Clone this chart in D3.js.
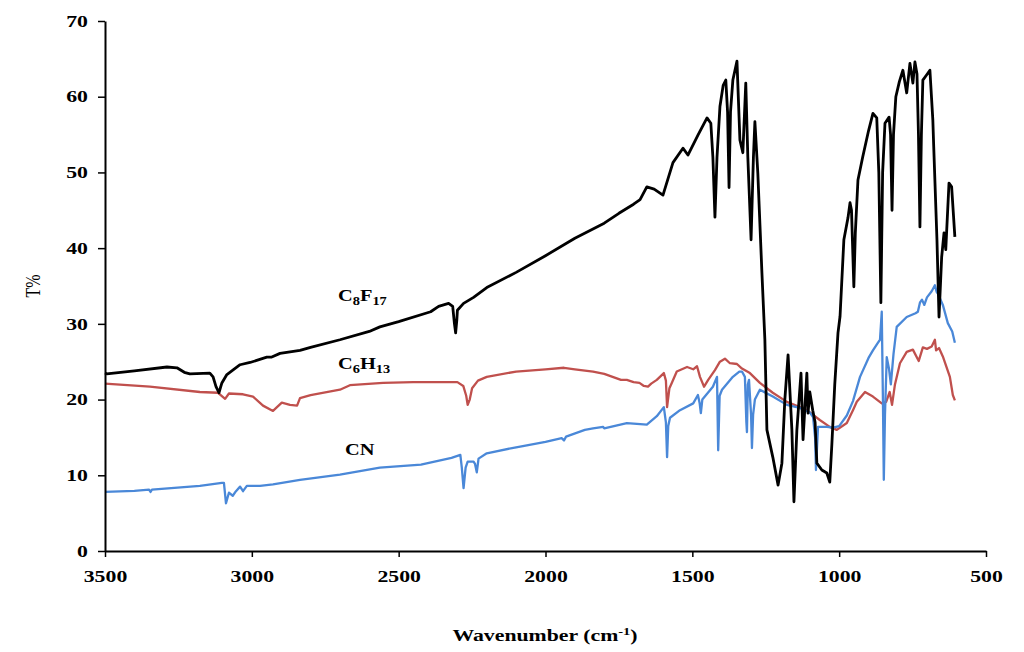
<!DOCTYPE html>
<html><head><meta charset="utf-8">
<script src="https://cdn.jsdelivr.net/npm/d3@7"></script>
<style>html,body{margin:0;padding:0;background:#fff;}svg{display:block;}</style>
</head><body>
<script>
// ---- Data ----
const xTicks = [3500, 3000, 2500, 2000, 1500, 1000, 500];
const yTicks = [0, 10, 20, 30, 40, 50, 60, 70];

const c8f17Wn = [3500,3494,3400,3289,3255,3230,3211,3143,3132,3122,3112,3102,3085,3040,3006,2949,2934,2904,2836,2800,2700,2600,2564,2500,2391,2364,2330,2316,2310,2306,2302,2300,2279,2245,2200,2100,2000,1900,1800,1750,1700,1678,1655,1630,1600,1566,1532,1515,1480,1450,1437,1430,1423,1416,1406,1395,1386,1380,1375,1370,1362,1348,1338,1328,1318,1311,1300,1292,1287,1277,1263,1253,1246,1226,1208,1195,1185,1174,1161,1154,1144,1130,1123,1110,1106,1100,1090,1082,1076,1059,1042,1032,1025,1015,1004,997,984,970,963,958,950,945,936,920,900,885,872,865,858,852,844,830,825,820,815,807,795,783,770,759,749,742,735,730,725,720,715,700,691,681,678,667,660,651,643,637,626,617,606];
const c8f17T = [23.5,23.4,23.8,24.3,24.2,23.6,23.4,23.5,23.0,21.7,20.9,22.2,23.3,24.6,24.9,25.6,25.6,26.1,26.5,26.9,27.9,29.0,29.6,30.3,31.6,32.3,32.7,32.3,30.0,28.8,30.5,31.8,32.7,33.5,34.8,36.8,39.0,41.3,43.3,44.6,45.8,46.4,48.1,47.8,47.0,51.3,53.2,52.3,55.0,57.2,56.5,52.0,44.1,52.0,58.7,61.5,62.2,58.0,48.0,58.0,62.2,64.7,54.3,52.6,61.8,52.0,41.1,52.0,56.7,49.9,36.7,27.9,16.0,12.4,8.7,11.6,20.0,25.9,16.0,6.5,16.0,23.5,14.7,23.5,18.2,21.0,18.6,17.0,11.6,10.7,10.3,9.1,14.0,22.0,28.8,31.0,41.1,44.0,46.0,45.0,34.9,42.0,49.0,52.0,55.5,57.8,57.2,50.0,32.8,50.0,56.5,57.3,55.0,45.0,55.0,60.0,62.0,63.5,60.5,64.4,61.8,64.6,63.0,55.0,42.8,55.0,62.2,63.0,63.5,56.9,53.4,41.1,30.9,38.8,42.0,39.8,48.6,48.1,41.5];

const c6h13Wn = [3500,3347,3177,3115,3091,3078,3030,2996,2962,2928,2898,2870,2846,2836,2800,2700,2666,2553,2451,2383,2300,2280,2270,2265,2258,2250,2230,2200,2100,2000,1937,1900,1838,1800,1743,1723,1700,1680,1665,1651,1640,1621,1597,1590,1586,1578,1570,1553,1518,1497,1484,1474,1460,1446,1423,1406,1389,1372,1348,1331,1304,1270,1226,1178,1134,1110,1066,1032,1008,974,953,940,912,885,855,840,828,820,810,793,770,749,729,715,701,685,674,670,660,647,623,613,606];
const c6h13T = [22.1,21.7,21.0,20.9,20.1,20.8,20.7,20.4,19.2,18.5,19.6,19.3,19.2,20.2,20.6,21.3,21.9,22.2,22.3,22.3,22.3,21.8,20.5,19.3,20.0,21.5,22.5,23.0,23.7,24.0,24.2,24.0,23.7,23.4,22.6,22.6,22.3,22.2,21.8,21.7,22.1,22.6,23.5,22.5,19.0,21.5,22.2,23.7,24.3,24.0,24.4,23.0,21.7,22.6,23.9,25.0,25.4,24.8,24.7,24.1,23.5,22.2,20.9,19.7,19.0,18.6,17.3,16.4,16.0,16.9,18.6,19.7,21.0,20.4,19.5,19.7,21.0,19.3,22.0,24.8,26.3,26.6,25.1,26.9,26.7,27.0,27.9,26.5,26.8,25.7,23.0,20.6,19.9];

const cnWn = [3500,3400,3350,3345,3340,3177,3102,3095,3088,3078,3065,3054,3040,3030,3017,2972,2928,2836,2700,2564,2424,2320,2290,2285,2279,2272,2265,2245,2240,2234,2228,2200,2100,2000,1945,1937,1930,1866,1838,1804,1800,1723,1655,1621,1597,1590,1586,1582,1576,1542,1497,1481,1475,1471,1466,1430,1416,1412,1407,1399,1362,1340,1331,1321,1316,1314,1311,1307,1300,1297,1293,1287,1270,1226,1178,1134,1100,1089,1082,1079,1075,1072,1042,1021,1000,974,953,929,900,885,870,861,855,851,848,844,838,830,824,815,804,770,740,732,725,718,710,701,685,674,668,664,647,630,615,606];
const cnT = [7.8,7.95,8.1,7.8,8.1,8.6,9.0,9.0,6.3,7.7,7.3,7.9,8.5,7.9,8.6,8.6,8.8,9.4,10.1,11.0,11.4,12.3,12.7,11.0,8.3,11.0,11.8,11.8,11.5,10.4,12.2,12.9,13.7,14.4,14.9,14.6,15.1,16.0,16.2,16.4,16.2,16.9,16.7,17.8,19.0,17.0,12.4,16.5,17.6,18.6,19.5,20.6,19.5,18.2,20.0,21.7,23.0,13.3,20.5,21.3,23.0,23.7,23.7,23.0,17.0,15.7,22.0,22.6,18.0,13.6,18.0,20.0,21.3,20.4,19.3,18.9,18.3,17.7,15.0,10.7,14.0,16.4,16.4,16.3,16.5,17.9,19.8,23.0,25.5,26.5,27.4,27.9,31.6,20.0,9.4,18.0,25.6,24.0,22.0,26.0,29.6,30.9,31.4,31.6,32.8,33.2,32.5,33.5,34.3,35.1,34.2,34.0,32.5,30.1,29.0,27.5];

// ---- Layout ----
const W = 1024, H = 652;
const SX = 1.32; // horizontal stretch of the reference's text
const svg = d3.select("body").append("svg").attr("width", W).attr("height", H);
const x = d3.scaleLinear().domain([3500, 500]).range([105, 986]);
const y = d3.scaleLinear().domain([0, 70]).range([551, 21]);
const font = "'Liberation Serif','Times New Roman',serif";

const series = [
  {wn: c6h13Wn, t: c6h13T, color: "#c0504d", w: 2.3},
  {wn: cnWn, t: cnT, color: "#4a88d8", w: 2.3},
  {wn: c8f17Wn, t: c8f17T, color: "#000000", w: 2.8}
];
const line = d3.line().x(d => x(d[0])).y(d => y(d[1]));
series.forEach(s => {
  svg.append("path")
    .datum(s.wn.map((v, i) => [v, s.t[i]]))
    .attr("d", line)
    .attr("fill", "none")
    .attr("stroke", s.color)
    .attr("stroke-width", s.w)
    .attr("stroke-linejoin", "round");
});

// axes
const xAxis = svg.append("g").attr("transform", "translate(0,551)")
  .call(d3.axisBottom(x).tickValues(xTicks).tickSize(6).tickSizeOuter(0).tickFormat(d3.format("d")));
const yAxis = svg.append("g").attr("transform", "translate(105,0)")
  .call(d3.axisLeft(y).tickValues(yTicks).tickSize(7).tickSizeOuter(0));
[xAxis, yAxis].forEach(g => {
  g.select(".domain").attr("stroke", "#000").attr("stroke-width", 2);
  g.selectAll(".tick line").attr("stroke", "#000").attr("stroke-width", 1.5);
  g.selectAll("text").attr("font-family", font).attr("font-weight", "bold")
    .attr("font-size", 16.5).attr("fill", "#000");
});
xAxis.selectAll("text").attr("dy", "1.35em").attr("transform", `scale(${SX},1)`);
yAxis.selectAll("text").attr("x", -17 / SX).attr("transform", `scale(${SX},1)`);

// axis titles
svg.append("text").attr("transform", `translate(40,286) rotate(-90) scale(1,${SX})`)
  .attr("text-anchor", "middle").attr("font-family", font).attr("font-size", 16)
  .text("T%");
const xt = svg.append("text").attr("transform", `translate(545,641) scale(${SX},1)`)
  .attr("text-anchor", "middle").attr("font-family", font).attr("font-weight", "bold")
  .attr("font-size", 16.5);
xt.append("tspan").text("Wavenumber (cm");
xt.append("tspan").attr("dy", -6).attr("font-size", 11).text("-1");
xt.append("tspan").attr("dy", 6).text(")");

// series labels
function label(xp, yp, parts) {
  const t = svg.append("text").attr("transform", `translate(${xp},${yp}) scale(1.2,1)`)
    .attr("font-family", font).attr("font-weight", "bold").attr("font-size", 17);
  parts.forEach(p => {
    if (p.sub) t.append("tspan").attr("dy", 4).attr("font-size", 12).text(p.s);
    else t.append("tspan").attr("dy", p.after ? -4 : 0).text(p.s);
  });
}
label(338, 301, [{s:"C"},{s:"8",sub:true},{s:"F",after:true},{s:"17",sub:true}]);
label(338, 369, [{s:"C"},{s:"6",sub:true},{s:"H",after:true},{s:"13",sub:true}]);
label(345, 455, [{s:"CN"}]);
</script>
</body></html>
